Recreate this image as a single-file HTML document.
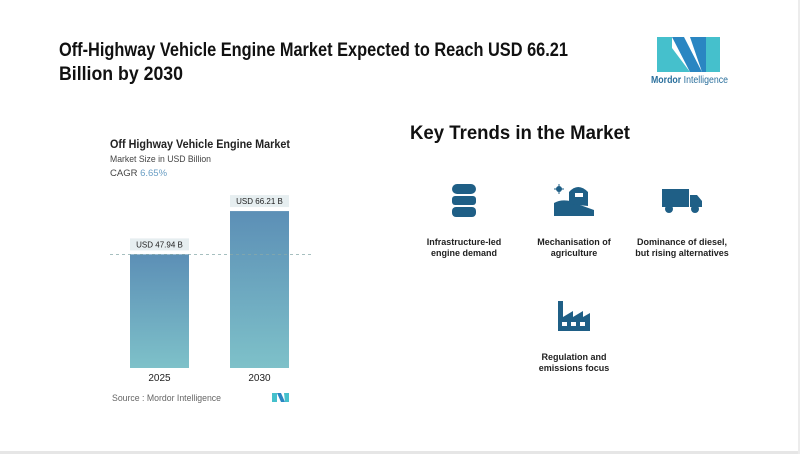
<!DOCTYPE html>
<html><head><meta charset="utf-8"><style>
html,body{margin:0;padding:0;background:#fff}
svg{display:block;font-family:"Liberation Sans",sans-serif}
</style></head><body>
<svg id="root" width="800" height="454" viewBox="0 0 800 454">
<defs>
<linearGradient id="barg" x1="0" y1="0" x2="0" y2="1"><stop offset="0" stop-color="#5c8fb6"/><stop offset="1" stop-color="#7ec1c9"/></linearGradient>
</defs>
<rect x="0" y="0" width="800" height="454" fill="#fff"/>
<rect x="0" y="451" width="800" height="3" fill="#e6e6e6"/>
<rect x="798" y="0" width="2" height="454" fill="#ececec"/>
<g font-weight="bold" font-size="19" fill="#111">
<text x="59" y="56" textLength="509" lengthAdjust="spacingAndGlyphs">Off-Highway Vehicle Engine Market Expected to Reach USD 66.21</text>
<text x="59" y="80" textLength="124" lengthAdjust="spacingAndGlyphs">Billion by 2030</text>
</g>
<g>
<polygon points="657,37 672,37 672,72 657,72" fill="#45c0cc"/>
<polygon points="672,37 684,37 702,72 690,72" fill="#2a86c2"/>
<polygon points="672,48 690,72 672,72" fill="#45c0cc"/>
<polygon points="690,37 706,37 706,72 702,72" fill="#2a86c2"/>
<polygon points="706,37 720,37 720,72 706,72" fill="#45c0cc"/>
<text x="651" y="83" font-size="10" fill="#2a6f9c" textLength="77" lengthAdjust="spacingAndGlyphs"><tspan font-weight="bold">Mordor</tspan> Intelligence</text>
</g>
<g>
<text x="110" y="148" font-size="12" font-weight="bold" fill="#222" textLength="180" lengthAdjust="spacingAndGlyphs">Off Highway Vehicle Engine Market</text>
<text x="110" y="162" font-size="9.5" fill="#444" textLength="101" lengthAdjust="spacingAndGlyphs">Market Size in USD Billion</text>
<text x="110" y="176" font-size="9.5" fill="#444">CAGR <tspan fill="#6a9ec4">6.65%</tspan></text>
</g>
<g id="chart"></g>
<text x="112" y="401" font-size="9" fill="#666" textLength="109" lengthAdjust="spacingAndGlyphs">Source :  Mordor Intelligence</text>
<g>
<polygon points="272,393 277,393 277,402 272,402" fill="#45c0cc"/>
<polygon points="277,393 281,393 285,402 281,402" fill="#2a86c2"/>
<polygon points="284,393 289,393 289,402 285,402" fill="#45c0cc"/>
</g>
<text x="410" y="139" font-size="19" font-weight="bold" fill="#111" textLength="220" lengthAdjust="spacingAndGlyphs">Key Trends in the Market</text>
<g fill="#1f5f86">
<g>
<rect x="452" y="184" width="24" height="10" rx="5"/><rect x="452" y="196" width="24" height="9" rx="3"/><rect x="452" y="207" width="24" height="10" rx="4"/>
</g>
<g>
<circle cx="559" cy="189" r="3"/><path d="M554,189h10M559,184v10" stroke="#1f5f86" stroke-width="1"/>
<path d="M554,216 V203 Q565,197 580,205 L594,210 V216Z"/>
<path d="M569,204 V192 Q578,182 588,192 V206 Z"/>
<rect x="575" y="193" width="8" height="4" fill="#fff"/>
</g>
<g>
<rect x="662" y="189" width="27" height="18"/><path d="M690,195 h7 l5,6 v6 h-12z"/>
<circle cx="669" cy="209" r="4"/><circle cx="695" cy="209" r="4"/>
</g>
<g>
<path d="M558,331 V301 h5 V317 l10,-6 v6 l10,-6 v6 l7,-4 v18 z"/>
<rect x="562" y="322" width="5" height="4" fill="#fff"/><rect x="571" y="322" width="5" height="4" fill="#fff"/><rect x="580" y="322" width="5" height="4" fill="#fff"/>
</g>
</g>
<g font-size="9" font-weight="bold" fill="#222" text-anchor="middle">
<text x="464" y="245">Infrastructure-led</text>
<text x="464" y="256">engine demand</text>
<text x="574" y="245">Mechanisation of</text>
<text x="574" y="256">agriculture</text>
<text x="682" y="245">Dominance of diesel,</text>
<text x="682" y="256">but rising alternatives</text>
<text x="574" y="360">Regulation and</text>
<text x="574" y="371">emissions focus</text>
</g>
</svg>
<script>
const categories = ["2025", "2030"];
const values = [47.94, 66.21];
const valueLabels = ["USD 47.94 B", "USD 66.21 B"];
const NS = "http://www.w3.org/2000/svg";
const g = document.getElementById("chart");
const baseY = 368, pxPer = 2.37;
function yScale(v){ return baseY - v * pxPer; }
function xScale(i){ return 130 + i * 100; }
const barW = 59;
function mk(tag, attrs){ const e = document.createElementNS(NS, tag); for (const k in attrs) e.setAttribute(k, attrs[k]); g.appendChild(e); return e; }
categories.forEach((c, i) => {
  const x = xScale(i), y = yScale(values[i]);
  const r = mk("rect", {x: x, y: y, width: barW, height: baseY - y, fill: "url(#barg)"});
  
  
  const pill = mk("rect", {x: x, y: y - 16, width: barW, height: 12, fill: "#e6eef0"});
  
  
  const t = mk("text", {x: x + barW / 2, y: y - 7, "font-size": "8", "text-anchor": "middle", fill: "#222"});
  t.textContent = valueLabels[i];
  
  
  const xl = mk("text", {x: x + barW / 2, y: 381, "font-size": "10", "text-anchor": "middle", fill: "#222"});
  xl.textContent = c;
  
  
});
const ly = yScale(values[0]);
const dash = mk("line", {x1: 110, x2: 312, y1: ly, y2: ly, stroke: "#8aa", "stroke-dasharray": "3,3", "stroke-width": "0.8"});


</script>
</body></html>
